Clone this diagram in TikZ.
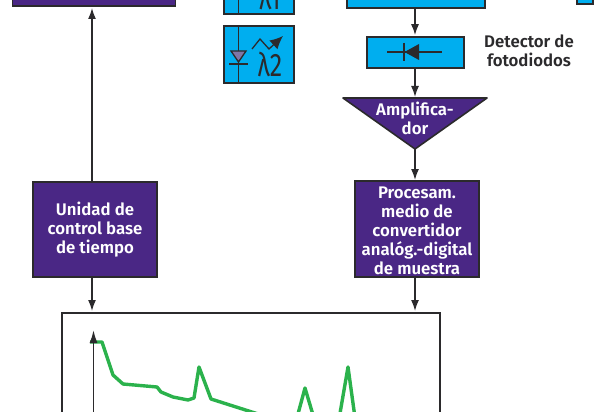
\documentclass[tikz,border=0pt]{standalone}
\usepackage{fontspec}
\setmainfont[BoldFont={Fira Sans SemiBold}]{Fira Sans}
\usetikzlibrary{positioning,arrows.meta}
\definecolor{boxblue}{HTML}{00AEEF}
\definecolor{boxpurple}{HTML}{4A2785}
\definecolor{tracegreen}{HTML}{2BB24C}
\definecolor{edgegrey}{HTML}{2B2A2C}
\definecolor{diodegrey}{HTML}{7F76A6}
\tikzset{
    purplebox/.style={draw=edgegrey,line width=1.6pt,fill=boxpurple,inner sep=0pt},
    bluebox/.style={draw=edgegrey,line width=1.6pt,fill=boxblue,inner sep=0pt},
    boxtext/.style={text=white,font=\bfseries\fontsize{16.8}{19}\selectfont,align=center,inner sep=0pt},
    link/.style={draw=edgegrey,line width=1.5pt,-{Latex[length=11pt,width=8pt]},shorten >=1pt},
    symline/.style={draw=edgegrey,line width=1.3pt},
    lambdatext/.style={font=\fontsize{25}{25}\selectfont,text=edgegrey,yscale=1.3,inner sep=0pt},
}
\begin{document}
\begin{tikzpicture}[x=1pt,y=-1pt]
\clip (0,0) rectangle (600,412);
\useasboundingbox (0,0) rectangle (600,412);

% boxes cut off by the top edge
\node[purplebox,minimum width=163pt,minimum height=40pt] (display) at (94,-14) {};
\node[bluebox,minimum width=138pt,minimum height=40pt] (splitter) at (416,-12) {};
\node[bluebox,minimum width=70pt,minimum height=40pt] (laserone) at (259,-6) {};
\node[bluebox,minimum width=16pt,minimum height=40pt] (edgebox) at (585,-16) {};

\node[bluebox,minimum width=70pt,minimum height=57pt] (lasertwo) at (259,54.5) {};
\node[bluebox,minimum width=97pt,minimum height=31pt] (detector) at (415.5,52.5) {};
\node[boxtext,text=edgegrey] (detlabel) at (529,51) {Detector de\\fotodiodos};

% amplifier triangle
\coordinate (amptop) at (415,98);
\coordinate (ampapex) at (415,149);
\fill[boxpurple,draw=edgegrey,line width=1.6pt,line join=round] (343,98) -- (487,98) -- (ampapex) -- cycle;
\node[boxtext] (amp) at (415,118.5) {Amplifica-\\dor};

\node[purplebox,minimum width=124pt,minimum height=95pt] (timebase) at (95,229.5) {};
\node[boxtext] (timelabel) at (95,230) {Unidad de\\control base\\de tiempo};
\node[purplebox,minimum width=124pt,minimum height=96pt] (sampler) at (417,229) {};
\node[boxtext] (samplabel) at (417,231) {Procesam.\\medio de\\convertidor\\analóg.-digital\\de muestra};
\node[draw=edgegrey,line width=1.6pt,fill=white,minimum width=378pt,minimum height=140pt,inner sep=0pt] (screen) at (251,383) {};

% connectors
\draw[link] (timebase.north -| 92,0) -- (92,7);
\draw[link] (92,277) -- (92,312);
\draw[link] (415,277) -- (415,312);
\draw[link] (415,8) -- (detector.north -| 415,0);
\draw[link] (415,68) -- (amptop);
\draw[link] (ampapex) -- (415,181);

% symbols on the laser boxes
\draw[symline] (238.5,-10) -- (238.5,14);
\node[lambdatext] (lambdaone) at (270,-3) {λ1};
\draw[symline] (238.5,26) -- (238.5,83);
\draw[symline,fill=diodegrey] (231,51) -- (246,51) -- (238.5,62) -- cycle;
\draw[symline] (229,64) -- (248,64);
\coordinate (wavestart) at (252,49);
\coordinate (wavetip) at (283,36);
\draw[symline,-{Latex[length=13pt,width=12pt]}] (wavestart) -- (260,39) -- (269,49) -- (wavetip);
\node[lambdatext] (lambdatwo) at (270,64) {λ2};

% photodiode symbol
\coordinate (diodeleft) at (387,52);
\coordinate (dioderight) at (442,52);
\draw[symline,line width=1.4pt] (diodeleft) -- (dioderight);
\draw[symline,line width=1.4pt] (404,43) -- (404,61);
\fill[edgegrey] (404.5,52) -- (419,44) -- (419,60) -- cycle;

% trace on the screen
\draw[tracegreen,line width=3.4pt,line join=round] (90,342) -- (102,342) -- (113,375) -- (123,384) -- (157,387) -- (161,392) -- (173,397) -- (188,400) -- (194,398) -- (199,367) -- (211,399) -- (255,413) -- (295,425) -- (305,388) -- (316,425) -- (338,425) -- (348,367) -- (356,425);
\draw[edgegrey,line width=1.7pt,-{Latex[length=13pt,width=8pt]}] (93.5,420) -- (93.5,330);
\end{tikzpicture}
\end{document}
